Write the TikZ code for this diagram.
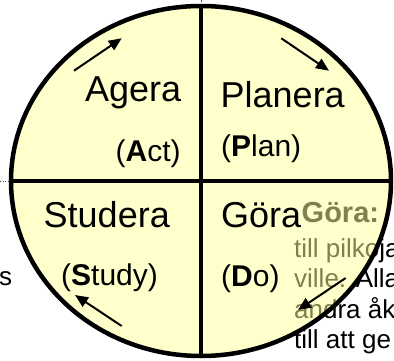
\documentclass[tikz,border=0pt]{standalone}
\usepackage{fontspec}
\setmainfont{Liberation Sans}
\usetikzlibrary{arrows.meta}
\definecolor{fillyel}{RGB}{255,255,153}
\begin{document}
\begin{tikzpicture}[x=1pt,y=-1pt,
  big/.style={font=\fontsize{36}{40}\selectfont, anchor=base west, inner sep=0pt},
  mid/.style={font=\fontsize{30}{34}\selectfont, anchor=base west, inner sep=0pt},
  body/.style={font=\fontsize{26}{30}\selectfont, anchor=base west, inner sep=0pt},
  head/.style={font=\fontsize{29}{32}\selectfont\bfseries, anchor=base west, inner sep=0pt},
  cyc/.style={line width=2pt, -{Triangle[length=13pt,width=11pt]}},
  thick line/.style={line width=4.5pt}]
\useasboundingbox (0,0) rectangle (394,361);
\clip (0,0) rectangle (394,361);
% text behind the circle
\node[head] (h) at (301.5,222) {Göra:};
\node[body] (l1) at (294,257) {till pilkoja};
\node[body] (l2) at (294,287) {ville. Alla};
\node[body] (l3) at (294,318) {andra åk};
\node[body] (l4) at (294,348) {till att ge};
\node[body] (s) at (-1,285) {s};
% small dotted remnants
\coordinate (d1) at (0,181);
\coordinate (d2) at (10,181);
\draw[dotted, line width=0.7pt, black!70] (d1) -- (d2);
\coordinate (t1) at (201,0);
\coordinate (t2) at (201,2);
\draw[line width=0.8pt, black!70] (t1) -- (t2);
% circle
\coordinate (c) at (201,181);
\fill[fillyel, fill opacity=0.5] (c) ellipse [x radius=190pt, y radius=175pt];
\coordinate (top) at (201,6);
\coordinate (bot) at (201,356);
\coordinate (lft) at (11,181);
\coordinate (rgt) at (391,181);
\draw[thick line] (top) -- (bot);
\draw[thick line] (lft) -- (rgt);
\draw[thick line] (c) ellipse [x radius=190pt, y radius=175pt];
% labels
\node[big] (agera) at (85,101.7) {Agera};
\node[mid] (act) at (115.5,161) {(\textbf{A}ct)};
\node[big] (planera) at (220.5,107) {Planera};
\node[mid] (plan) at (221,157) {(\textbf{P}lan)};
\node[big] (studera) at (43.5,227) {Studera};
\node[mid] (study) at (61,285) {(\textbf{S}tudy)};
\node[big] (gora) at (221,227) {Göra};
\node[mid] (do) at (221,286.5) {(\textbf{D}o)};
% cycle arrows
\coordinate (a1s) at (74,70.7);
\coordinate (a1e) at (121.7,38.3);
\coordinate (a2s) at (281.3,38.3);
\coordinate (a2e) at (329,70.7);
\coordinate (a3s) at (121.7,326);
\coordinate (a3e) at (75,295);
\coordinate (a4s) at (345.7,278);
\coordinate (a4e) at (298,310);
\draw[cyc] (a1s) -- (a1e);
\draw[cyc] (a2s) -- (a2e);
\draw[cyc] (a3s) -- (a3e);
\draw[cyc] (a4s) -- (a4e);
\end{tikzpicture}
\end{document}
